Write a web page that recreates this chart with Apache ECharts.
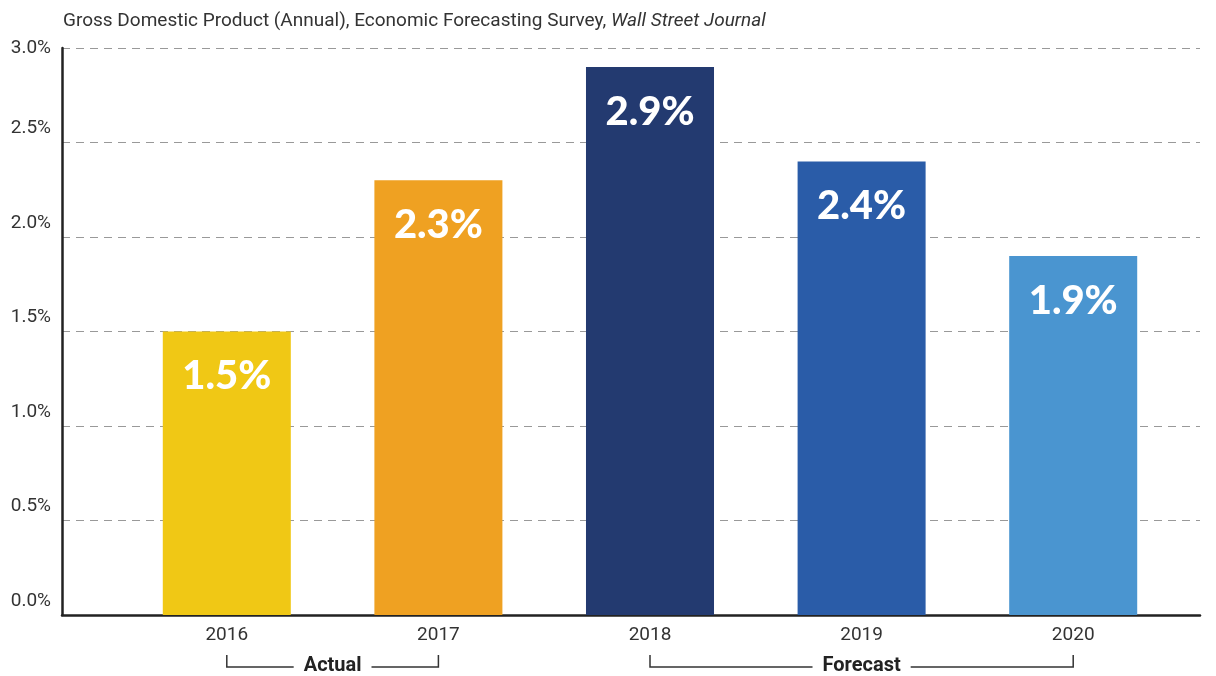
<!DOCTYPE html>
<html>
<head>
<meta charset="utf-8">
<script src="https://cdn.jsdelivr.net/npm/echarts@6/dist/echarts.min.js"></script>
<style>
  html, body { margin: 0; padding: 0; background: #fff; }
  #myChart { width: 1216px; height: 676px; }
</style>
</head>
<body>
<div id="myChart"></div>
<script>
// data
var years = ['2016', '2017', '2018', '2019', '2020']
var gdpGrowth = [1.5, 2.3, 2.9, 2.4, 1.9]
var barColors = ['#F0C815', '#EFA122', '#233A70', '#2A5CA8', '#4A95D0']
var yTicks = [0, 0.5, 1.0, 1.5, 2.0, 2.5, 3.0]
// groups under the x axis: label, first year, last year
var groupNames = ['Actual', 'Forecast']
var groupFrom = ['2016', '2018']
var groupTo = ['2017', '2020']

var font = 'Roboto'

var chart = echarts.init(document.getElementById('myChart'))

var option = {
  animation: false,
  title: {
    text: '{a|Gross Domestic Product (Annual), Economic Forecasting Survey, }{i|Wall Street Journal}',
    left: 58,
    top: 7,
    textStyle: {
      fontWeight: 'normal',
      rich: {
        a: { fontFamily: font, fontSize: 19, fontWeight: 'normal', color: '#333' },
        i: { fontFamily: font, fontSize: 19, fontWeight: 'normal', color: '#333', fontStyle: 'italic' }
      }
    }
  },
  grid: [
    // axis frame + gridlines
    { left: 62, right: 16, top: 48, bottom: 61 },
    // bars
    { left: 121, right: 37, top: 48, bottom: 61 }
  ],
  xAxis: [{
    gridIndex: 0,
    type: 'category',
    data: years,
    axisLine: { show: true, lineStyle: { color: '#222', width: 2.5 } },
    axisTick: { show: false },
    axisLabel: { show: false }
  }, {
    gridIndex: 1,
    type: 'category',
    data: years,
    axisLine: { show: false },
    axisTick: { show: false },
    axisLabel: {
      margin: 11,
      fontFamily: font,
      fontSize: 19,
      color: '#333'
    }
  }],
  yAxis: [{
    gridIndex: 0,
    type: 'value',
    min: yTicks[0],
    max: yTicks[yTicks.length - 1],
    interval: 0.5,
    axisLine: { show: true, lineStyle: { color: '#222', width: 2.5 } },
    axisTick: { show: false },
    splitLine: {
      show: true,
      lineStyle: { color: '#999', type: [8, 6], width: 1.2 }
    },
    axisLabel: {
      margin: 11,
      formatter: function(v) {
        var s = v.toFixed(1) + '%'
        return v === 3 ? '{t|' + s + '}' : '{n|' + s + '}'
      },
      rich: {
        t: { fontFamily: font, fontSize: 19, color: '#333' },
        n: { fontFamily: font, fontSize: 19, color: '#333', padding: [0, 0, 28, 0] }
      }
    }
  }, {
    gridIndex: 1,
    type: 'value',
    min: yTicks[0],
    max: yTicks[yTicks.length - 1],
    interval: 0.5,
    show: false,
    splitLine: { show: false }
  }],
  series: [{
    type: 'bar',
    xAxisIndex: 1,
    yAxisIndex: 1,
    barWidth: '60.5%',
    data: gdpGrowth.map(function(v, i) {
      return { value: v, itemStyle: { color: barColors[i] } }
    }),
    label: {
      show: true,
      position: 'insideTop',
      distance: 25,
      formatter: function(p) { return p.value.toFixed(1) + '%' },
      fontFamily: 'Lato',
      fontWeight: 900,
      fontSize: 40,
      color: '#fff'
    }
  }]
}

chart.setOption(option)

// brackets under the years
var graphics = []
groupNames.forEach(function(name, i) {
  var x0 = chart.convertToPixel({ xAxisIndex: 1 }, groupFrom[i])
  var x1 = chart.convertToPixel({ xAxisIndex: 1 }, groupTo[i])
  graphics.push({
    type: 'polyline',
    shape: { points: [[x0, 655], [x0, 667], [x1, 667], [x1, 655]] },
    style: { stroke: '#333', lineWidth: 1.5, fill: null }
  })
  graphics.push({
    type: 'text',
    x: (x0 + x1) / 2,
    y: 666,
    style: {
      text: name,
      fontFamily: font,
      fontWeight: 'bold',
      fontSize: 20,
      fill: '#222',
      align: 'center',
      verticalAlign: 'middle',
      backgroundColor: '#fff',
      padding: [0, 10]
    }
  })
})
chart.setOption({ graphic: graphics })
</script>
</body>
</html>
